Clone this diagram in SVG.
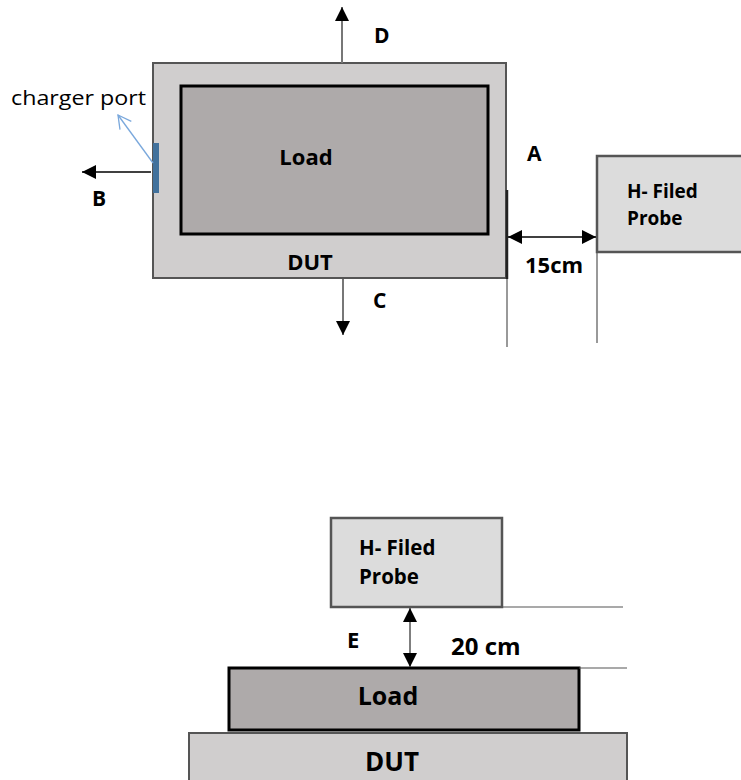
<svg xmlns="http://www.w3.org/2000/svg" width="741" height="780" viewBox="0 0 741 780">
<defs>
<style>
.t{font-family:"Open Sans","Noto Sans","Liberation Sans",sans-serif;font-weight:bold;fill:#000}
.dut{fill:#d0cece;stroke:#555;stroke-width:2}
.load{fill:#aeaaaa;stroke:#000;stroke-width:3}
.probe{fill:#dcdcdc;stroke:#555;stroke-width:2.5}
.ln{stroke:#777;stroke-width:2;fill:none}
.thin{stroke:#555;stroke-width:1.2;fill:none}
</style>
<marker id="ahe" viewBox="0 0 14 14" refX="14" refY="7" markerWidth="14" markerHeight="14" markerUnits="userSpaceOnUse" orient="auto"><path d="M0,0 L14,7 L0,14 z" fill="#000"/></marker>
<marker id="ahs" viewBox="0 0 14 14" refX="14" refY="7" markerWidth="14" markerHeight="14" markerUnits="userSpaceOnUse" orient="auto-start-reverse"><path d="M0,0 L14,7 L0,14 z" fill="#000"/></marker>
<marker id="op" viewBox="0 0 16 16" refX="15" refY="8" markerWidth="16" markerHeight="16" markerUnits="userSpaceOnUse" orient="auto"><path d="M2,1 L15,8 L2,15" fill="none" stroke="#7aa8dc" stroke-width="1.3"/></marker>
</defs>

<g id="dut-top">
<rect class="dut" x="153" y="63" width="353" height="215"/>
<text class="t" x="310" y="270" font-size="22" text-anchor="middle">DUT</text>
</g>
<g id="load-top">
<rect class="load" x="181" y="86" width="307" height="148"/>
<text class="t" x="306" y="165" font-size="22" text-anchor="middle">Load</text>
</g>
<g id="charger-port">
<rect x="153" y="143" width="6" height="50" fill="#41719c"/>
<text x="11" y="105" font-family="'Open Sans','Noto Sans',sans-serif" font-size="20" fill="#000" textLength="135" lengthAdjust="spacingAndGlyphs">charger port</text>
</g>
<g id="probe-top">
<rect class="probe" x="597" y="156" width="150" height="96"/>
<text class="t" x="627" y="198" font-size="19">H- Filed</text>
<text class="t" x="627" y="225" font-size="19">Probe</text>
</g>
<g id="probe-bottom">
<rect class="probe" x="331" y="518" width="171" height="89"/>
<text class="t" x="359" y="555" font-size="20.5">H- Filed</text>
<text class="t" x="359" y="584" font-size="20.5">Probe</text>
</g>
<g id="load-bottom">
<rect class="load" x="229" y="668" width="350" height="62"/>
<text class="t" x="388" y="705" font-size="25" text-anchor="middle">Load</text>
</g>
<g id="dut-bottom">
<rect class="dut" x="189" y="733" width="438" height="60"/>
<text class="t" x="392" y="771" font-size="26" text-anchor="middle">DUT</text>
</g>

<g id="connectors">
<line class="ln" x1="342" y1="63" x2="342" y2="7" marker-end="url(#ahe)"/>
<line class="ln" x1="343" y1="279" x2="343" y2="335" marker-end="url(#ahe)"/>
<line x1="151" y1="172" x2="82" y2="172" stroke="#000" stroke-width="1.5" marker-end="url(#ahe)"/>
<line x1="153" y1="163" x2="118" y2="115" stroke="#7aa8dc" stroke-width="1.3" marker-end="url(#op)"/>
<line x1="507" y1="190" x2="507" y2="279" stroke="#222" stroke-width="2.5"/>
<line class="thin" x1="507" y1="279" x2="507" y2="347"/>
<line class="thin" x1="597" y1="252" x2="597" y2="343"/>
<line x1="508" y1="237" x2="596" y2="237" stroke="#000" stroke-width="1.5" marker-start="url(#ahs)" marker-end="url(#ahs)"/>
<line class="thin" x1="502" y1="607" x2="623" y2="607"/>
<line class="thin" x1="579" y1="668" x2="627" y2="668"/>
<line x1="410" y1="608" x2="410" y2="667" stroke="#555" stroke-width="1.5" marker-start="url(#ahs)" marker-end="url(#ahs)"/>
</g>

<g id="labels">
<text class="t" x="374" y="43" font-size="21">D</text>
<text class="t" x="92" y="206" font-size="21">B</text>
<text class="t" x="373" y="308" font-size="21">C</text>
<text class="t" x="527" y="161" font-size="21">A</text>
<text class="t" x="525" y="273" font-size="22">15cm</text>
<text class="t" x="347" y="648" font-size="22">E</text>
<text class="t" x="451" y="655" font-size="24">20 cm</text>
</g>
</svg>
